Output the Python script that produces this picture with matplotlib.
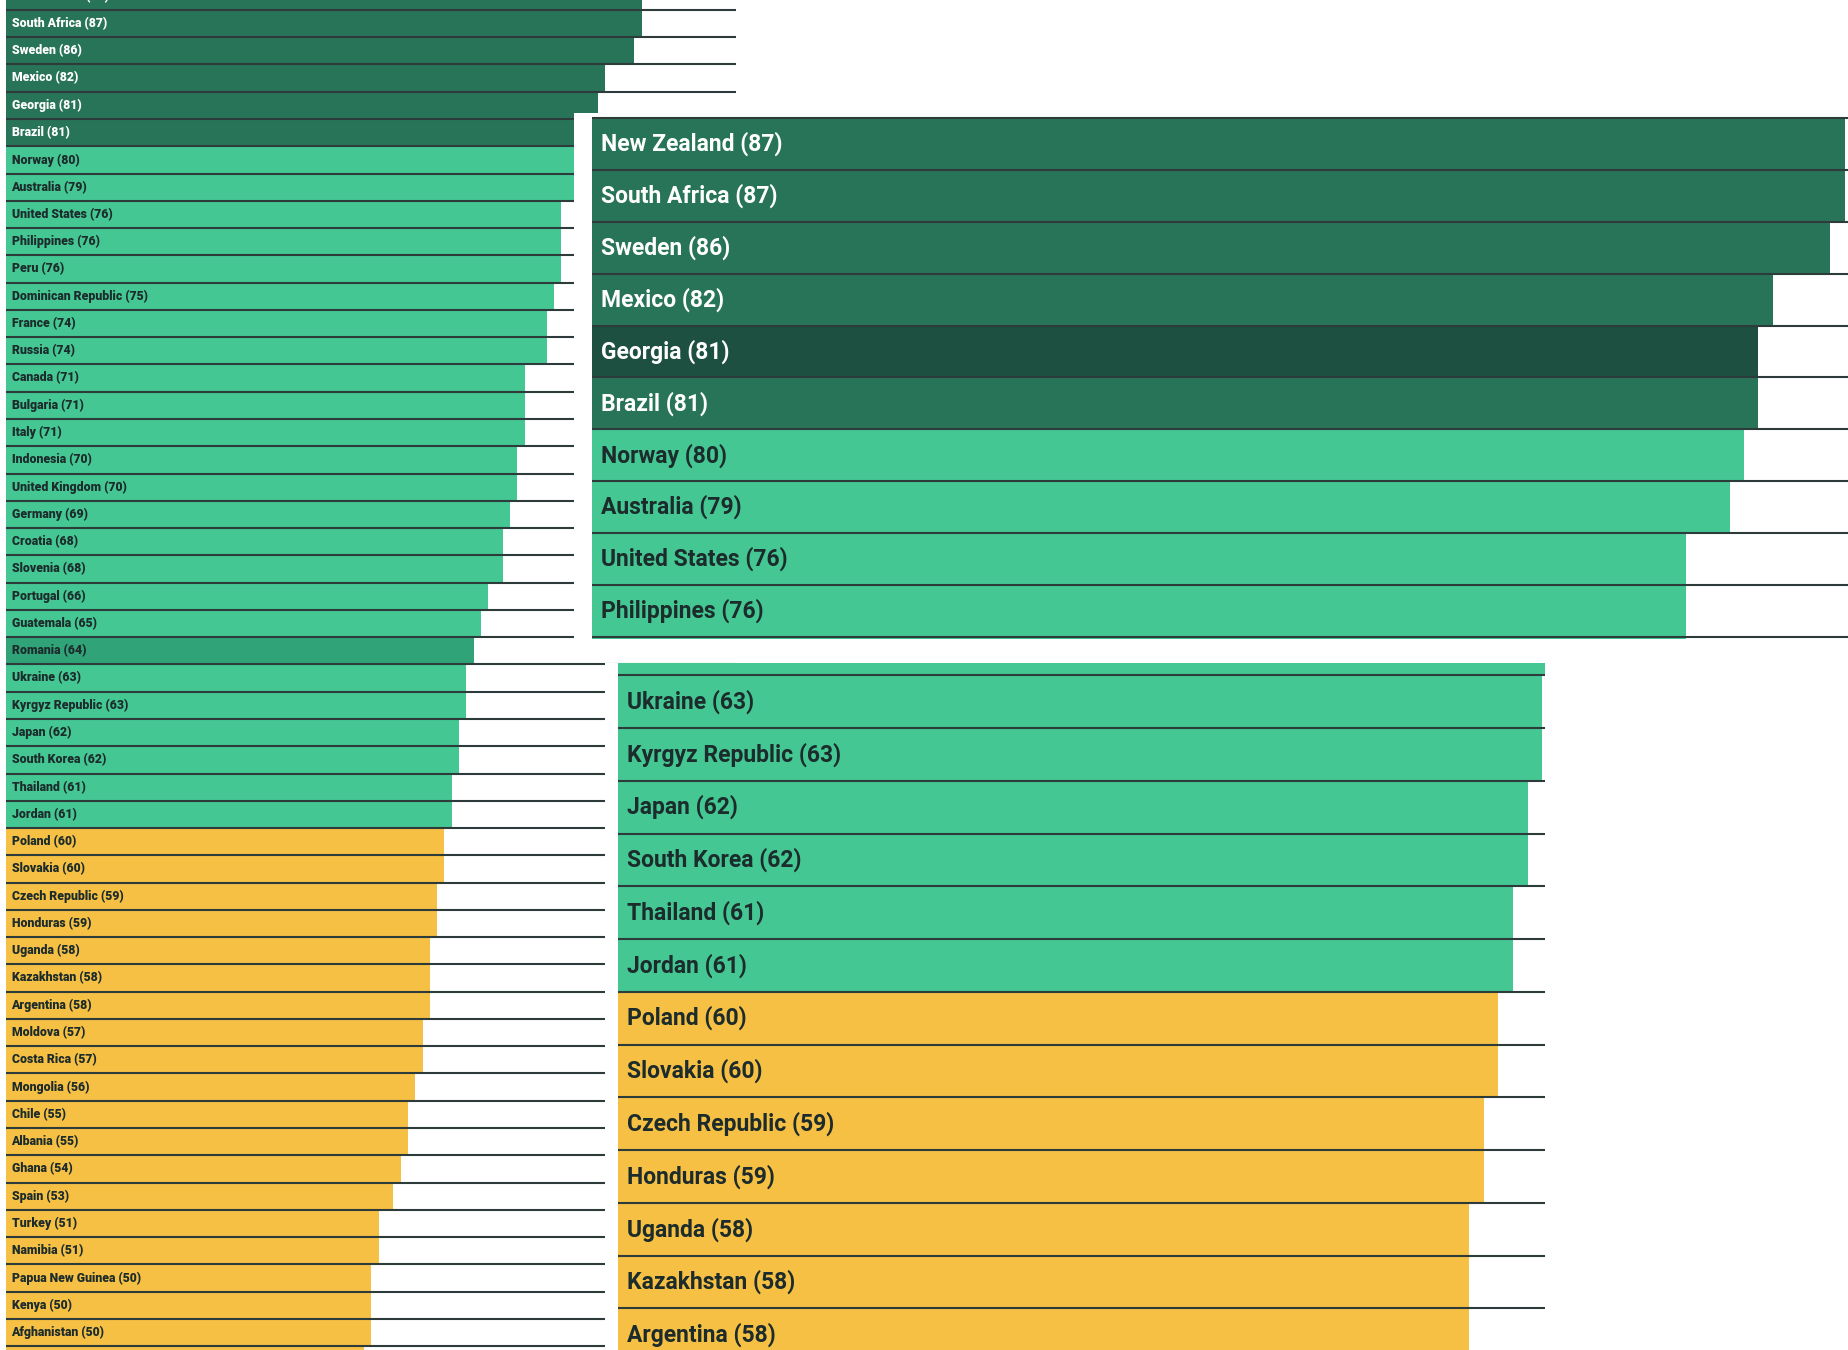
import matplotlib
matplotlib.use('Agg')
import matplotlib.pyplot as plt
from matplotlib.transforms import offset_copy

countries = ["New Zealand", "South Africa", "Sweden", "Mexico", "Georgia", "Brazil",
             "Norway", "Australia", "United States", "Philippines", "Peru",
             "Dominican Republic", "France", "Russia", "Canada", "Bulgaria", "Italy",
             "Indonesia", "United Kingdom", "Germany", "Croatia", "Slovenia", "Portugal",
             "Guatemala", "Romania", "Ukraine", "Kyrgyz Republic", "Japan", "South Korea",
             "Thailand", "Jordan", "Poland", "Slovakia", "Czech Republic", "Honduras",
             "Uganda", "Kazakhstan", "Argentina", "Moldova", "Costa Rica", "Mongolia",
             "Chile", "Albania", "Ghana", "Spain", "Turkey", "Namibia", "Papua New Guinea",
             "Kenya", "Afghanistan", ""]
scores = [87, 87, 86, 82, 81, 81, 80, 79, 76, 76, 76, 75, 74, 74, 71, 71, 71, 70, 70, 69,
          68, 68, 66, 65, 64, 63, 63, 62, 62, 61, 61, 60, 60, 59, 59, 58, 58, 58, 57, 57,
          56, 55, 55, 54, 53, 51, 51, 50, 50, 50, 49]

DARK = '#287459'
LIGHT = '#44c793'
YELLOW = '#f5c043'
LINE = '#2e3b3b'
TXT_DARK = '#1c2b2b'
FAMILY = ['Roboto', 'DejaVu Sans']


def color_for(v):
    if v >= 81:
        return DARK
    if v >= 61:
        return LIGHT
    return YELLOW


W, H = 1849, 1350
fig = plt.figure(figsize=(W / 100, H / 100), dpi=100)
fig.patch.set_facecolor('white')


def panel(px_rect, xlim, ylim, fontsize, pad_pt, weight='bold', highlight=None,
          hcolor=None, lw=1.4):
    x0, y0, x1, y1 = px_rect
    ax = fig.add_axes([x0 / W, 1 - y1 / H, (x1 - x0) / W, (y1 - y0) / H])
    ax.set_facecolor('white')
    ypos = list(range(len(countries)))
    cols = [hcolor if (c == highlight and c) else color_for(v)
            for c, v in zip(countries, scores)]
    ax.barh(ypos, scores, height=1.0, color=cols, linewidth=0, zorder=1)
    ax.hlines([i - 0.5 for i in range(len(countries) + 1)], 0, 100,
              color=LINE, lw=lw, zorder=2)
    trans = offset_copy(ax.transData, fig=fig, x=pad_pt, y=0, units='points')
    lo, hi = min(ylim), max(ylim)
    for i, (c, v, col) in enumerate(zip(countries, scores, cols)):
        if not c or i < lo - 0.2 or i > hi + 0.2:
            continue
        tc = 'white' if col in (DARK, '#1d5040') else TXT_DARK
        ax.text(0, i, f'{c} ({v})', transform=trans, va='center', ha='left',
                fontsize=fontsize, fontweight=weight, color=tc, family=FAMILY,
                clip_on=True, zorder=3)
    ax.set_xlim(*xlim)
    ax.set_ylim(*ylim)
    for s in ax.spines.values():
        s.set_visible(False)
    ax.set_xticks([])
    ax.set_yticks([])
    return ax


# main full list
panel((0, 0, W, H), (-6.5 / 7.30, (W - 6.5) / 7.30), (49.64, 0.136), 8.8, 3.6,
      weight='black', highlight='Romania', hcolor='#30a379', lw=1.5)

# enlarged top inset
panel((574, 113, W, 639), (-18 / 14.4, (W - 592) / 14.4), (9.539, -0.595), 16.5, 6.5,
      highlight='Georgia', hcolor='#1d5040', lw=1.5)

# enlarged lower inset
panel((605, 663, 1545, H), (-13 / 14.67, (1545 - 618) / 14.67), (37.287, 24.269), 16.5, 6.5,
      lw=1.5)

fig.savefig('out.png', dpi=100, facecolor='white')
